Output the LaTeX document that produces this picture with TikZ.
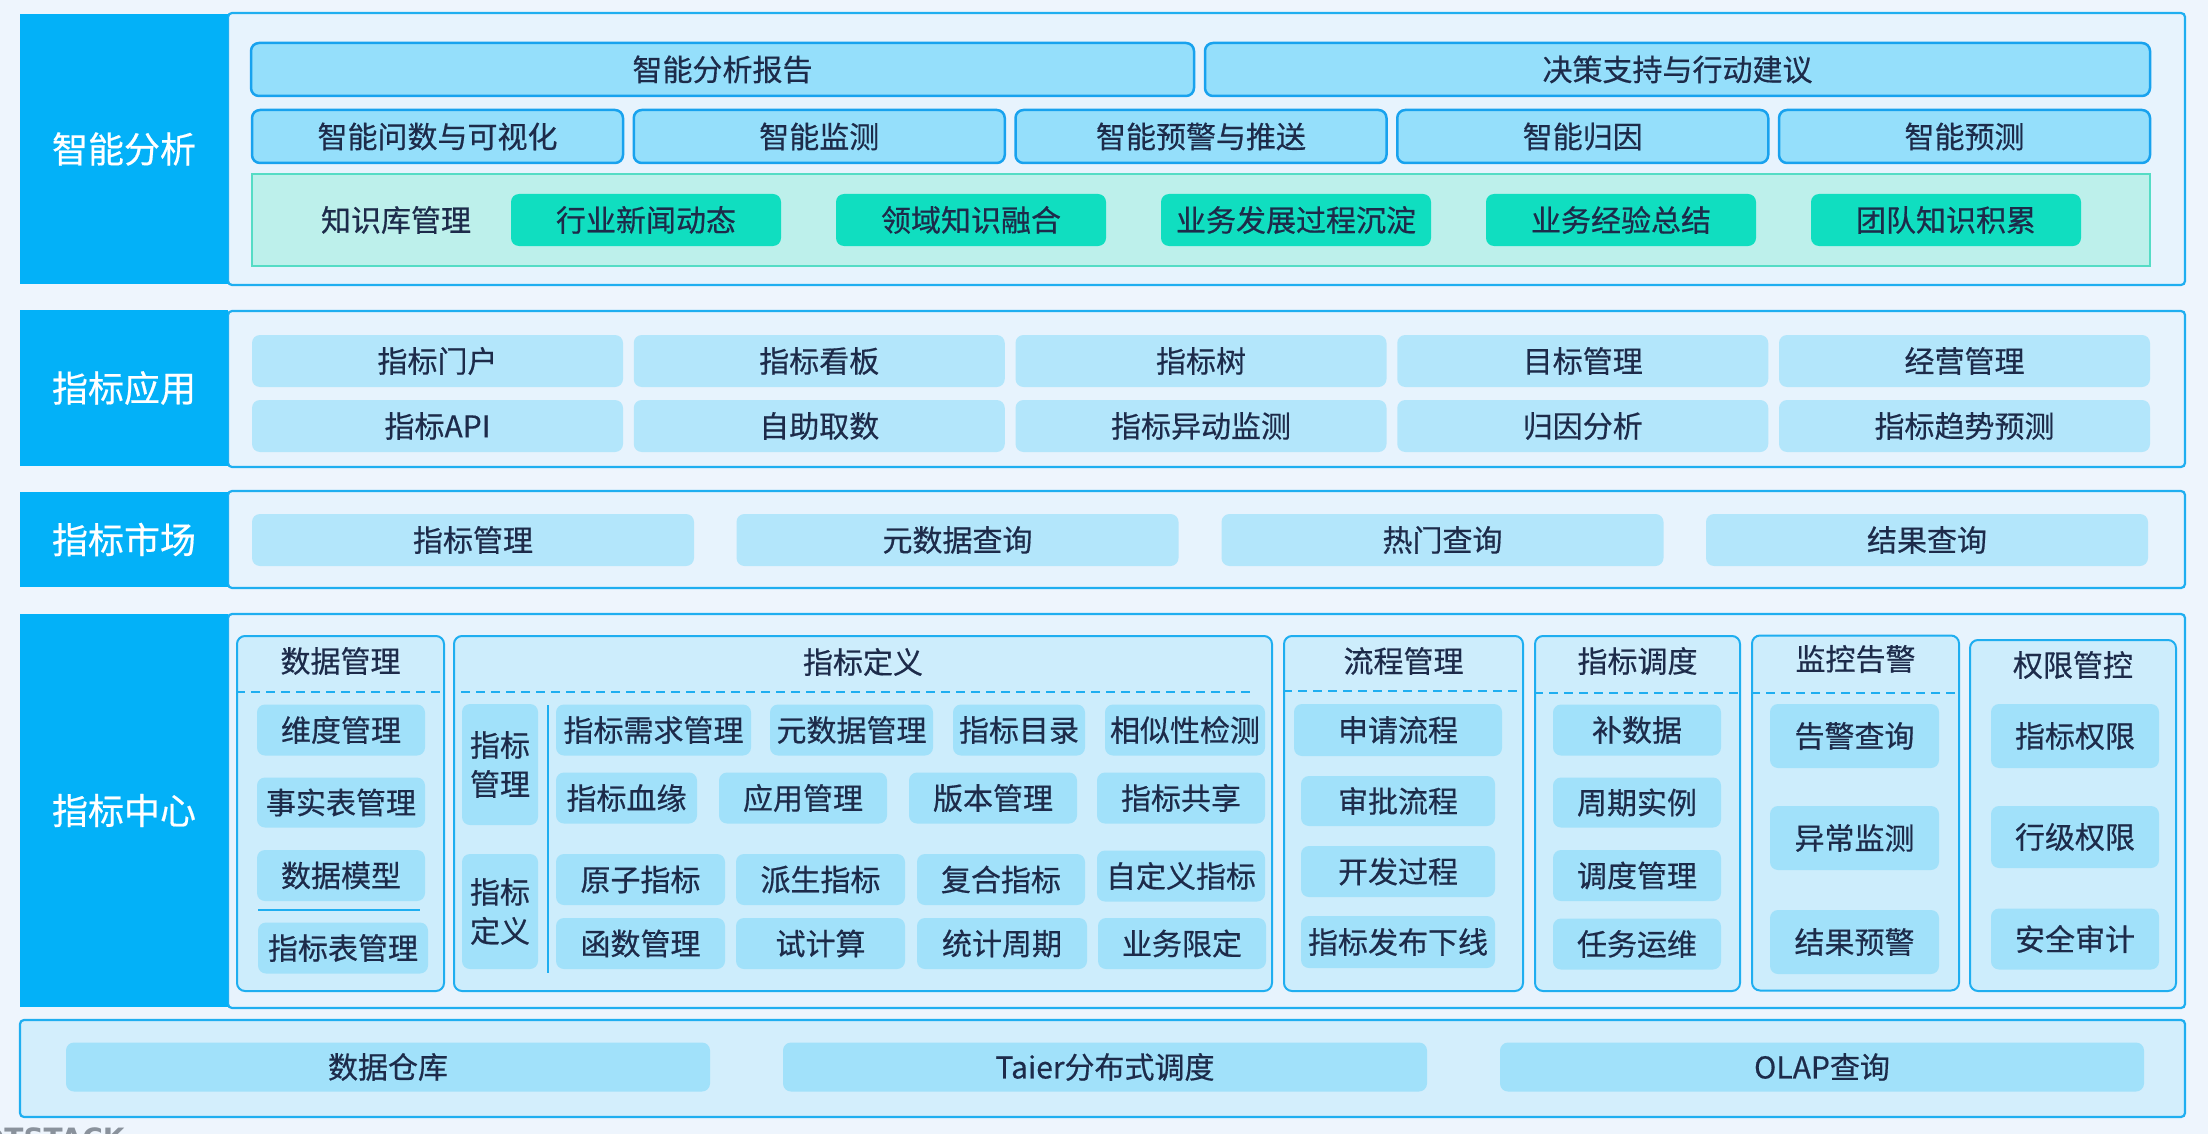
\documentclass[tikz,border=0pt]{standalone}
\usepackage{fontspec}
\setmainfont{Noto Sans CJK SC}[FakeBold=0.5]
\newfontfamily\markfont{DejaVu Sans}
\usepackage{xcolor}
\usepackage{tikz}

\definecolor{bgblue}{HTML}{EEF5FD}
\definecolor{secblue}{HTML}{03B1F8}
\definecolor{panfill}{HTML}{E7F3FD}
\definecolor{panline}{HTML}{1FAEF0}
\definecolor{topfill}{HTML}{95DFFB}
\definecolor{topline}{HTML}{18A2EE}
\definecolor{appfill}{HTML}{B3E6FB}
\definecolor{subfill}{HTML}{CDEDFC}
\definecolor{itemfill}{HTML}{A1E1FA}
\definecolor{kbfill}{HTML}{BDF0EB}
\definecolor{kbline}{HTML}{55DCC5}
\definecolor{kbgreen}{HTML}{10DEC0}
\definecolor{basefill}{HTML}{D3EEFC}
\definecolor{txt}{HTML}{1D2B4A}
\definecolor{markgray}{HTML}{8A929C}

\begin{document}
\begin{tikzpicture}[x=1pt,y=-1pt]
\tikzstyle{sect} = [rectangle, fill=secblue, text=white, inner sep=0pt, font=\fontsize{36}{40}\selectfont]
\tikzstyle{panel} = [rectangle, rounded corners=4pt, fill=panfill, draw=panline, line width=2.2pt, inner sep=0pt]
\tikzstyle{topbox} = [rectangle, rounded corners=8pt, fill=topfill, draw=topline, line width=2.5pt, text=txt, inner sep=0pt, minimum height=53pt, font=\fontsize{30}{34}\selectfont]
\tikzstyle{kbarea} = [rectangle, fill=kbfill, draw=kbline, line width=2pt, inner sep=0pt]
\tikzstyle{kbbox} = [rectangle, rounded corners=8pt, fill=kbgreen, text=txt, inner sep=0pt, minimum width=270pt, minimum height=52pt, font=\fontsize{30}{34}\selectfont]
\tikzstyle{appbox} = [rectangle, rounded corners=8pt, fill=appfill, text=txt, inner sep=0pt, minimum height=52pt, font=\fontsize{30}{34}\selectfont]
\tikzstyle{subpanel} = [rectangle, rounded corners=8pt, fill=subfill, draw=panline, line width=2pt, inner sep=0pt, minimum height=355pt]
\tikzstyle{itembox} = [rectangle, rounded corners=8pt, fill=itemfill, text=txt, inner sep=0pt, minimum height=51pt, font=\fontsize{30}{34}\selectfont]
\tikzstyle{heading} = [text=txt, inner sep=0pt, font=\fontsize{30}{34}\selectfont]
\tikzstyle{dashsep} = [draw=panline, line width=2pt, dash pattern=on 9pt off 6pt]
\tikzstyle{sepline} = [draw=panline, line width=2pt]

\useasboundingbox (0,0) rectangle (2208,1134);
\fill [bgblue] (0,0) rectangle (2208,1134);

% intelligent analysis
\node [panel, minimum width=1957pt, minimum height=272pt] (p1) at (1206.5,149) {};
\node [sect, minimum width=208pt, minimum height=270pt] (s1) at (124,149) {智能分析};
\node [topbox, minimum width=943pt] (a0) at (722.5,69.5) {智能分析报告};
\node [topbox, minimum width=945pt] (a1) at (1677.5,69.5) {决策支持与行动建议};
\node [topbox, minimum width=371pt] (a2) at (437.5,136.5) {智能问数与可视化};
\node [topbox, minimum width=371pt] (a3) at (819.25,136.5) {智能监测};
\node [topbox, minimum width=371pt] (a4) at (1201,136.5) {智能预警与推送};
\node [topbox, minimum width=371pt] (a5) at (1582.75,136.5) {智能归因};
\node [topbox, minimum width=371pt] (a6) at (1964.5,136.5) {智能预测};
\node [kbarea, minimum width=1898pt, minimum height=92pt] (kb) at (1201,220) {};
\node [heading] (kbt) at (396,220) {知识库管理};
\node [kbbox] (k1) at (646,220) {行业新闻动态};
\node [kbbox] (k2) at (971,220) {领域知识融合};
\node [kbbox] (k3) at (1296,220) {业务发展过程沉淀};
\node [kbbox] (k4) at (1621,220) {业务经验总结};
\node [kbbox] (k5) at (1946,220) {团队知识积累};

% applications
\node [panel, minimum width=1957pt, minimum height=156pt] (p2) at (1206.5,389) {};
\node [sect, minimum width=208pt, minimum height=156pt] (s2) at (124,388) {指标应用};
\node [appbox, minimum width=371pt] (u1) at (437.5,361) {指标门户};
\node [appbox, minimum width=371pt] (u2) at (819.25,361) {指标看板};
\node [appbox, minimum width=371pt] (u3) at (1201,361) {指标树};
\node [appbox, minimum width=371pt] (u4) at (1582.75,361) {目标管理};
\node [appbox, minimum width=371pt] (u5) at (1964.5,361) {经营管理};
\node [appbox, minimum width=371pt] (v1) at (437.5,426) {指标API};
\node [appbox, minimum width=371pt] (v2) at (819.25,426) {自助取数};
\node [appbox, minimum width=371pt] (v3) at (1201,426) {指标异动监测};
\node [appbox, minimum width=371pt] (v4) at (1582.75,426) {归因分析};
\node [appbox, minimum width=371pt] (v5) at (1964.5,426) {指标趋势预测};

% market
\node [panel, minimum width=1957pt, minimum height=97pt] (p3) at (1206.5,539.5) {};
\node [sect, minimum width=208pt, minimum height=95pt] (s3) at (124,539.5) {指标市场};
\node [appbox, minimum width=442pt] (c1) at (473,540) {指标管理};
\node [appbox, minimum width=442pt] (c2) at (957.5,540) {元数据查询};
\node [appbox, minimum width=442pt] (c3) at (1442.5,540) {热门查询};
\node [appbox, minimum width=442pt] (c4) at (1927,540) {结果查询};

% metric center
\node [panel, minimum width=1957pt, minimum height=394pt] (p4) at (1206.5,811) {};
\node [sect, minimum width=208pt, minimum height=393pt] (s4) at (124,810.5) {指标中心};
\node [subpanel, minimum width=207pt] (d0) at (340.5,813.5) {};
\node [subpanel, minimum width=818pt] (m0) at (863,813.5) {};
\node [subpanel, minimum width=239pt] (f0) at (1403.5,813.5) {};
\node [subpanel, minimum width=205pt] (t0) at (1637.5,813.5) {};
\node [subpanel, minimum width=207pt] (w0) at (1855.5,813) {};
\node [subpanel, minimum width=206pt, minimum height=351pt] (q0) at (2073,815.5) {};
\node [heading] (dh) at (340.5,661) {数据管理};
\node [heading] (mh) at (863,662) {指标定义};
\node [heading] (fh) at (1403.5,661) {流程管理};
\node [heading] (th) at (1637.5,661) {指标调度};
\node [heading] (wh) at (1855.5,659) {监控告警};
\node [heading] (qh) at (2073,665) {权限管控};
\draw [dashsep] (d0.west |- 0,692) -- (d0.east |- 0,692);
\draw [dashsep] ([xshift=8pt]m0.west |- 0,692) -- ([xshift=-18pt]m0.east |- 0,692);
\draw [dashsep] (f0.west |- 0,691) -- (f0.east |- 0,691);
\draw [dashsep] (t0.west |- 0,693) -- (t0.east |- 0,693);
\draw [dashsep] (w0.west |- 0,693) -- (w0.east |- 0,693);

\node [itembox, minimum width=168pt] (d1) at (341,730) {维度管理};
\node [itembox, minimum width=168pt, minimum height=50pt] (d2) at (341,802.5) {事实表管理};
\node [itembox, minimum width=168pt] (d3) at (341,875.5) {数据模型};
\node [itembox, minimum width=170pt] (d4) at (343,948) {指标表管理};
\draw [sepline] (258,910) -- (420,910);

\node [itembox, minimum width=76pt, minimum height=121pt, align=center, font=\fontsize{30}{39}\selectfont] (ml1) at (500,764.5) {指标\\管理};
\node [itembox, minimum width=76pt, minimum height=115pt, align=center, font=\fontsize{30}{39}\selectfont] (ml2) at (500,911.5) {指标\\定义};
\draw [sepline] (548,705) -- (548,973);
\node [itembox, minimum width=195pt] (g11) at (653.5,730) {指标需求管理};
\node [itembox, minimum width=163pt] (g12) at (851.5,730) {元数据管理};
\node [itembox, minimum width=132pt] (g13) at (1019,730) {指标目录};
\node [itembox, minimum width=160pt] (g14) at (1185,730) {相似性检测};
\node [itembox, minimum width=141pt] (g21) at (626.5,798) {指标血缘};
\node [itembox, minimum width=168pt] (g22) at (803,798) {应用管理};
\node [itembox, minimum width=168pt] (g23) at (993,798) {版本管理};
\node [itembox, minimum width=168pt] (g24) at (1181,798) {指标共享};
\node [itembox, minimum width=169pt] (g31) at (640.5,879.5) {原子指标};
\node [itembox, minimum width=169pt] (g32) at (820.5,879.5) {派生指标};
\node [itembox, minimum width=168pt] (g33) at (1001,879.5) {复合指标};
\node [itembox, minimum width=168pt] (g34) at (1181,876) {自定义指标};
\node [itembox, minimum width=169pt] (g41) at (640.5,943.5) {函数管理};
\node [itembox, minimum width=169pt] (g42) at (820.5,943.5) {试计算};
\node [itembox, minimum width=170pt] (g43) at (1002,943.5) {统计周期};
\node [itembox, minimum width=168pt] (g44) at (1182,943.5) {业务限定};

\node [itembox, minimum width=208pt, minimum height=52pt] (f1) at (1398,730) {申请流程};
\node [itembox, minimum width=194pt, minimum height=50pt] (f2) at (1398,801) {审批流程};
\node [itembox, minimum width=194pt] (f3) at (1398,871.5) {开发过程};
\node [itembox, minimum width=194pt, minimum height=52pt] (f4) at (1398,942) {指标发布下线};

\node [itembox, minimum width=168pt] (t1) at (1637,730) {补数据};
\node [itembox, minimum width=168pt, minimum height=50pt] (t2) at (1637,802.5) {周期实例};
\node [itembox, minimum width=168pt] (t3) at (1637,875.5) {调度管理};
\node [itembox, minimum width=168pt] (t4) at (1637,944) {任务运维};

\node [itembox, minimum width=169pt, minimum height=64pt] (w1) at (1854.5,736) {告警查询};
\node [itembox, minimum width=169pt, minimum height=64pt] (w2) at (1854.5,838) {异常监测};
\node [itembox, minimum width=169pt, minimum height=64pt] (w3) at (1854.5,942) {结果预警};

\node [itembox, minimum width=168pt, minimum height=64pt] (q1) at (2075,736) {指标权限};
\node [itembox, minimum width=168pt, minimum height=62pt] (q2) at (2075,837) {行级权限};
\node [itembox, minimum width=168pt, minimum height=61pt] (q3) at (2075,939) {安全审计};

% base layer
\node [panel, fill=basefill, minimum width=2165pt, minimum height=97pt] (p5) at (1102.5,1068.5) {};
\node [itembox, minimum width=644pt, minimum height=49pt] (b1) at (388,1067) {数据仓库};
\node [itembox, minimum width=644pt, minimum height=49pt] (b2) at (1105,1067) {Taier分布式调度};
\node [itembox, minimum width=644pt, minimum height=49pt] (b3) at (1822,1067) {OLAP查询};

\node [anchor=base west, inner sep=0pt, text=markgray, font=\markfont\bfseries\fontsize{28}{28}\selectfont] (mark) at (-19,1148) {DTSTACK};
\end{tikzpicture}
\end{document}
